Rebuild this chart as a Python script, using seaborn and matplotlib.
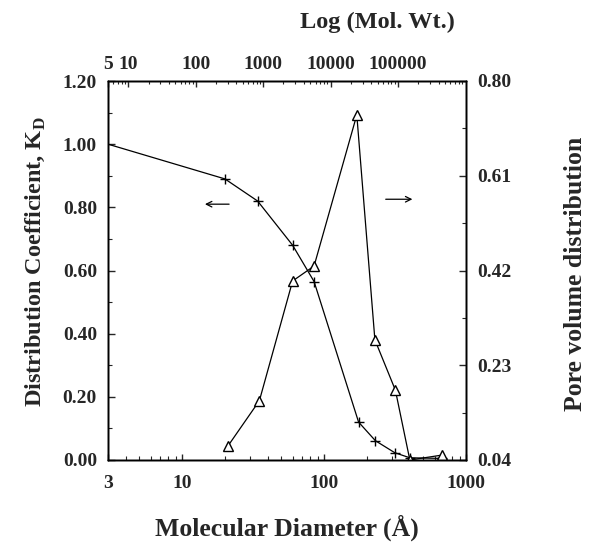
import numpy as np
import pandas as pd
import matplotlib
matplotlib.use('Agg')
import matplotlib.pyplot as plt
import seaborn as sns
from matplotlib.ticker import FixedLocator, NullFormatter, LogLocator

# data
kd_diam = [3, 20, 34, 60, 85, 175, 230, 315, 402, 680]
kd_vals = [1.00, 0.89, 0.82, 0.68, 0.565, 0.12, 0.061, 0.023, 0.007, 0.005]

pv_diam = [21, 35, 60, 85, 170, 228, 318, 402, 682]
pv_vals = [0.068, 0.159, 0.399, 0.429, 0.732, 0.281, 0.180, 0.040, 0.050]

left_ticks = [0.00, 0.20, 0.40, 0.60, 0.80, 1.00, 1.20]
right_ticks = [0.04, 0.23, 0.42, 0.61, 0.80]
bottom_ticks = [3, 10, 100, 1000]
top_ticks = [5, 10, 100, 1000, 10000, 100000]

sns.set_style('ticks')
plt.rcParams['font.family'] = ['Liberation Serif', 'DejaVu Serif']
plt.rcParams['font.weight'] = 'bold'
plt.rcParams['mathtext.fontset'] = 'custom'
plt.rcParams['mathtext.rm'] = 'Liberation Serif:bold'
plt.rcParams['mathtext.bf'] = 'Liberation Serif:bold'
plt.rcParams['axes.linewidth'] = 1.0

kd_df = pd.DataFrame({'diam': kd_diam, 'kd': kd_vals})
pv_df = pd.DataFrame({'diam': pv_diam, 'pv': pv_vals})

fig = plt.figure(figsize=(5.89, 5.42), dpi=100)
ax = fig.add_axes([108 / 589, 1 - 460 / 542, 358 / 589, 379 / 542])

sns.lineplot(data=kd_df, x='diam', y='kd', ax=ax, color='black', lw=0.9,
             marker='+', markersize=7.5, markeredgecolor='black', mew=1.0,
             markevery=list(range(1, len(kd_diam))))
ax.set_xscale('log')
ax.set_xlim(3, 1000)
ax.set_ylim(0, 1.2)
ax.set_xlabel('')
ax.set_ylabel('')
ax.xaxis.set_major_locator(FixedLocator(bottom_ticks))
ax.set_xticklabels([str(t) for t in bottom_ticks])
ax.xaxis.set_minor_locator(LogLocator(base=10, subs=np.arange(2, 10)))
ax.xaxis.set_minor_formatter(NullFormatter())
ax.set_yticks(left_ticks)
ax.set_yticklabels(['%.2f' % t for t in left_ticks])
ax.set_yticks(np.arange(0.1, 1.2, 0.2), minor=True)
ax.tick_params(axis='both', which='major', direction='in', length=5, width=1,
               labelsize=14, pad=8)
ax.tick_params(axis='both', which='minor', direction='in', length=3, width=0.8)
ax.tick_params(axis='x', which='major', length=4, pad=11)

ax2 = ax.twinx()
sns.lineplot(data=pv_df, x='diam', y='pv', ax=ax2, color='black', lw=0.9,
             marker='^', markersize=7, markerfacecolor='white',
             markeredgecolor='black', mew=1.0)
ax2.set_ylim(0.04, 0.80)
ax2.set_ylabel('')
ax2.set_yticks(right_ticks)
ax2.set_yticklabels(['%.2f' % t for t in right_ticks])
ax2.set_yticks([0.135, 0.325, 0.515, 0.705], minor=True)
ax2.tick_params(axis='y', which='major', direction='in', length=5, width=1,
                labelsize=14, pad=8)
ax2.tick_params(axis='y', which='minor', direction='in', length=3, width=0.8)

ax3 = ax.twiny()
ax3.set_xscale('log')
ax3.set_xlim(5, 1.02e6)
ax3.xaxis.set_major_locator(FixedLocator(top_ticks))
ax3.set_xticklabels([str(t) for t in top_ticks])
ax3.xaxis.set_minor_locator(LogLocator(base=10, subs=np.arange(2, 10)))
ax3.xaxis.set_minor_formatter(NullFormatter())
ax3.tick_params(axis='x', which='major', direction='in', length=4, width=1,
                labelsize=14, pad=6)
ax3.tick_params(axis='x', which='minor', direction='in', length=2.5, width=0.8)

for a in (ax, ax2, ax3):
    for s in a.spines.values():
        s.set_visible(True)
        s.set_color('black')
        s.set_linewidth(1.0)

# arrows pointing to the axis each curve belongs to
ax.annotate('', xy=(0.263, 0.675), xytext=(0.346, 0.675), xycoords='axes fraction',
            arrowprops=dict(arrowstyle='->', color='black', lw=0.9))
ax.annotate('', xy=(0.858, 0.688), xytext=(0.768, 0.688), xycoords='axes fraction',
            arrowprops=dict(arrowstyle='->', color='black', lw=0.9))

fig.text(287 / 589, 1 - 528 / 542, 'Molecular Diameter (Å)', ha='center', va='center',
         fontsize=18.5, fontweight='bold')
fig.text(377 / 589, 1 - 22 / 542, 'Log (Mol. Wt.)', ha='center', va='center',
         fontsize=17.5, fontweight='bold')
fig.text(35 / 589, 1 - 262 / 542, r'Distribution Coefficient, K$_{\mathbf{D}}$',
         rotation=90, ha='center', va='center', fontsize=17.5, fontweight='bold')
fig.text(575 / 589, 1 - 274 / 542, 'Pore volume distribution', rotation=90,
         ha='center', va='center', fontsize=18.5, fontweight='bold')

plt.savefig('out.png', dpi=100)
